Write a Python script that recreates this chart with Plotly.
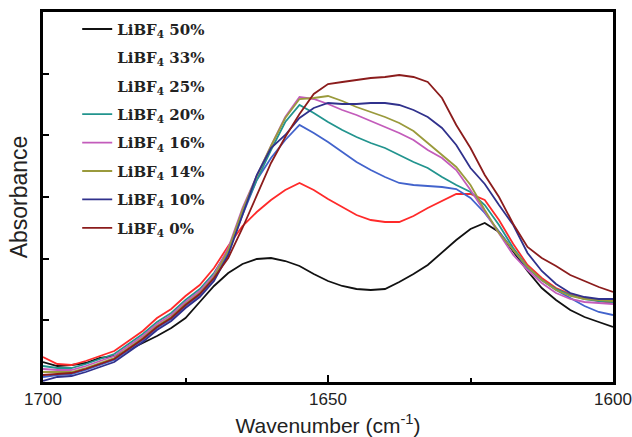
import plotly.graph_objects as go

wavenumber = [1700, 1697.5, 1695, 1692.5, 1690, 1687.5, 1685, 1682.5, 1680, 1677.5,
              1675, 1672.5, 1670, 1667.5, 1665, 1662.5, 1660, 1657.5, 1655, 1652.5,
              1650, 1647.5, 1645, 1642.5, 1640, 1637.5, 1635, 1632.5, 1630, 1627.5,
              1625, 1622.5, 1620, 1617.5, 1615, 1612.5, 1610, 1607.5, 1605, 1602.5, 1600]

libf4_50 = [0.040, 0.032, 0.034, 0.038, 0.048, 0.052, 0.064, 0.078, 0.092, 0.108,
            0.128, 0.160, 0.192, 0.218, 0.236, 0.246, 0.248, 0.242, 0.232, 0.216,
            0.202, 0.192, 0.186, 0.184, 0.186, 0.200, 0.216, 0.234, 0.260, 0.284,
            0.306, 0.318, 0.300, 0.260, 0.222, 0.188, 0.164, 0.144, 0.130, 0.120, 0.110]
libf4_33 = [0.050, 0.036, 0.034, 0.042, 0.052, 0.062, 0.082, 0.102, 0.128, 0.146,
            0.172, 0.194, 0.228, 0.272, 0.312, 0.340, 0.364, 0.384, 0.398, 0.384,
            0.366, 0.350, 0.334, 0.324, 0.320, 0.320, 0.332, 0.348, 0.362, 0.376,
            0.376, 0.364, 0.324, 0.276, 0.234, 0.208, 0.188, 0.176, 0.168, 0.162, 0.158]
libf4_25 = [0.010, 0.014, 0.016, 0.024, 0.034, 0.044, 0.064, 0.084, 0.108, 0.126,
            0.152, 0.174, 0.206, 0.260, 0.334, 0.404, 0.448, 0.484, 0.514, 0.498,
            0.480, 0.460, 0.440, 0.424, 0.410, 0.398, 0.394, 0.392, 0.390, 0.386,
            0.368, 0.338, 0.300, 0.264, 0.228, 0.204, 0.184, 0.168, 0.152, 0.140, 0.134]
libf4_20 = [0.032, 0.028, 0.028, 0.036, 0.046, 0.056, 0.076, 0.096, 0.120, 0.138,
            0.164, 0.186, 0.218, 0.264, 0.340, 0.404, 0.464, 0.520, 0.554, 0.538,
            0.520, 0.504, 0.490, 0.478, 0.468, 0.454, 0.440, 0.428, 0.410, 0.394,
            0.380, 0.354, 0.314, 0.268, 0.230, 0.204, 0.186, 0.174, 0.166, 0.162, 0.160]
libf4_16 = [0.026, 0.024, 0.024, 0.032, 0.042, 0.052, 0.072, 0.092, 0.116, 0.134,
            0.160, 0.182, 0.214, 0.268, 0.348, 0.412, 0.472, 0.530, 0.570, 0.566,
            0.556, 0.544, 0.534, 0.522, 0.510, 0.498, 0.484, 0.464, 0.448, 0.424,
            0.384, 0.340, 0.296, 0.254, 0.224, 0.198, 0.178, 0.166, 0.160, 0.158, 0.156]
libf4_14 = [0.020, 0.020, 0.020, 0.028, 0.038, 0.048, 0.068, 0.088, 0.112, 0.130,
            0.156, 0.178, 0.210, 0.264, 0.344, 0.412, 0.472, 0.528, 0.566, 0.568,
            0.572, 0.562, 0.550, 0.540, 0.530, 0.518, 0.502, 0.478, 0.454, 0.430,
            0.394, 0.344, 0.298, 0.264, 0.230, 0.204, 0.184, 0.172, 0.166, 0.164, 0.162]
libf4_10 = [0.002, 0.010, 0.012, 0.020, 0.030, 0.040, 0.060, 0.080, 0.104, 0.122,
            0.148, 0.170, 0.202, 0.254, 0.334, 0.414, 0.468, 0.494, 0.528, 0.548,
            0.558, 0.556, 0.556, 0.558, 0.558, 0.554, 0.544, 0.530, 0.508, 0.474,
            0.428, 0.396, 0.354, 0.314, 0.258, 0.222, 0.196, 0.178, 0.170, 0.166, 0.166]
libf4_0 = [0.014, 0.016, 0.018, 0.026, 0.036, 0.046, 0.066, 0.086, 0.110, 0.128,
           0.154, 0.176, 0.208, 0.248, 0.308, 0.372, 0.438, 0.490, 0.536, 0.576,
           0.596, 0.600, 0.604, 0.608, 0.610, 0.614, 0.610, 0.600, 0.568, 0.514,
           0.468, 0.414, 0.370, 0.316, 0.270, 0.248, 0.232, 0.214, 0.202, 0.190, 0.180]

series_labels = ["LiBF<sub>4</sub> 50%", "LiBF<sub>4</sub> 33%", "LiBF<sub>4</sub> 25%",
                 "LiBF<sub>4</sub> 20%", "LiBF<sub>4</sub> 16%", "LiBF<sub>4</sub> 14%",
                 "LiBF<sub>4</sub> 10%", "LiBF<sub>4</sub> 0%"]
series_values = [libf4_50, libf4_33, libf4_25, libf4_20, libf4_16, libf4_14, libf4_10, libf4_0]
series_colors = ["#111111", "#ff2a2a", "#4263cc", "#22948e", "#c35cbb", "#9a9a3c", "#30318c", "#8b1c1c"]
# series whose legend sample line is not visible in the original figure
hidden_legend_line = [False, True, True, False, False, False, False, False]

x_ticks = [1700, 1650, 1600]
x_tick_labels = ["1700", "1650", "1600"]

fig = go.Figure()
for i, (name, vals, col, hid) in enumerate(zip(series_labels, series_values, series_colors, hidden_legend_line)):
    fig.add_trace(go.Scatter(
        x=wavenumber, y=vals, mode="lines", name=name,
        line=dict(color=col, width=1.8),
        legendgroup=f"g{i}", legendrank=i, showlegend=not hid,
    ))
    if hid:
        fig.add_trace(go.Scatter(
            x=[None], y=[None], mode="lines", name=name,
            line=dict(color="rgba(0,0,0,0)", width=1.8),
            legendgroup=f"g{i}", legendrank=i, showlegend=True, hoverinfo="skip",
        ))

fig.update_layout(
    width=632, height=437,
    margin=dict(l=43, r=19, t=12, b=55, autoexpand=False),
    paper_bgcolor="white", plot_bgcolor="white",
    font=dict(family="Liberation Sans, Arial, sans-serif", color="#222222"),
    showlegend=True,
    legend=dict(
        x=0.06, y=0.998, xanchor="left", yanchor="top",
        bgcolor="rgba(0,0,0,0)", borderwidth=0,
        font=dict(family="DejaVu Serif, serif", size=15, color="#222222", weight="bold"),
        traceorder="grouped", tracegroupgap=5.9, itemwidth=30, maxheight=430,
    ),
)
fig.update_xaxes(
    range=[1700, 1600], showgrid=False, zeroline=False, automargin=False,
    showline=True, linewidth=3, linecolor="black", mirror=True,
    ticks="inside", ticklen=7, tickwidth=2, tickcolor="black",
    tickvals=x_ticks, ticktext=x_tick_labels,
    minor=dict(tickvals=[1675, 1625], ticks="inside", ticklen=4, tickwidth=2, tickcolor="black"),
    tickfont=dict(size=17, color="#222222"),
    title=dict(text="Wavenumber (cm<sup>-1</sup>)", font=dict(size=21, color="#222222"), standoff=10),
)
fig.update_yaxes(
    range=[0, 0.74], showgrid=False, zeroline=False, automargin=False,
    showline=True, linewidth=3, linecolor="black", mirror=True,
    ticks="inside", ticklen=6, tickwidth=2, tickcolor="black",
    tick0=0, dtick=0.74 / 6, showticklabels=False,
    title=dict(text="Absorbance", font=dict(size=23, color="#222222"), standoff=6),
)

fig.write_html("out.html")
